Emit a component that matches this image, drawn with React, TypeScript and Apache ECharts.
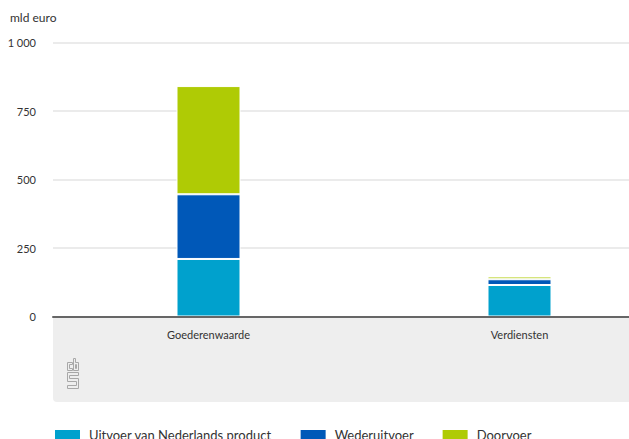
import React, { useEffect, useRef } from "react";
import * as echarts from "echarts";

const categories = ["Goederenwaarde", "Verdiensten"];
const seriesNames = ["Uitvoer van Nederlands product", "Wederuitvoer", "Doorvoer"];
const uitvoer = [210, 115];
const wederuitvoer = [236, 21];
const doorvoer = [395, 10];
const colors = ["#00a1cd", "#0058b8", "#afcb05"];
const yTicks = [0, 250, 500, 750, 1000];

const FONT = "Lato";

const logoStyle = { fill: "none", stroke: "#a8a8a8", lineWidth: 1 };
const logoShapes = [
  [[5, 4], [0, 4], [0, 12], [5, 12], [5, 10], [2, 10], [2, 6], [5, 6], [5, 4]],
  [[6, 0], [8, 0], [8, 4], [11, 4], [11, 12], [6, 12], [6, 0]],
  [[8, 6], [9, 6], [9, 10], [8, 10], [8, 6]],
  [[0, 14], [11, 14], [11, 17], [2, 17], [2, 20], [11, 20], [11, 30], [0, 30], [0, 27], [9, 27], [9, 23], [0, 23], [0, 14]],
];

export default function App() {
  const ref = useRef<HTMLDivElement>(null);
  useEffect(() => {
    if (!ref.current) return;
    const chart = echarts.init(ref.current, null, { renderer: "svg" });
    const data = [uitvoer, wederuitvoer, doorvoer];
    chart.setOption({
      animation: false,
      backgroundColor: "#ffffff",
      textStyle: { fontFamily: FONT },
      grid: { left: 53, width: 622, top: 42.5, height: 274, containLabel: false, outerBoundsMode: "none" },
      legend: {
        left: 53,
        top: 428,
        padding: 0,
        itemWidth: 27,
        itemHeight: 12,
        itemGap: 27,
        icon: "rect",
        textStyle: { fontFamily: FONT, fontSize: 13, color: "#333", padding: [0, 0, 0, 3] },
        data: seriesNames,
      },
      xAxis: {
        type: "category",
        data: categories,
        axisLine: { show: true, lineStyle: { color: "#666", width: 2 } },
        axisTick: { show: false },
        axisLabel: { color: "#333", fontSize: 11, margin: 12, fontFamily: FONT },
        z: 10,
      },
      yAxis: {
        type: "value",
        min: yTicks[0],
        max: yTicks[yTicks.length - 1],
        interval: 250,
        axisLine: { show: false },
        axisTick: { show: false },
        splitLine: { lineStyle: { color: "#ebebeb", width: 2 } },
        axisLabel: {
          color: "#333",
          fontSize: 11,
          margin: 17,
          fontFamily: FONT,
          formatter: (v: number) => (v >= 1000 ? String(v).replace(/\B(?=(\d{3})+(?!\d))/g, " ") : String(v)),
        },
      },
      graphic: [
        {
          type: "rect",
          z: -1,
          shape: { x: 53, y: 317, width: 640, height: 85, r: [0, 0, 0, 4] },
          style: { fill: "#eeeeee" },
        },
        {
          type: "text",
          left: 10,
          top: 11,
          style: { text: "mld euro", fontSize: 12, fill: "#333", fontFamily: FONT },
        },
        {
          type: "group",
          x: 67.5,
          y: 358.5,
          children: logoShapes.map((pts) => ({
            type: "polyline",
            shape: { points: pts },
            style: logoStyle,
          })),
        },
      ],
      series: seriesNames.map((name, i) => ({
        name,
        type: "bar",
        stack: "total",
        barWidth: 64,
        data: data[i],
        itemStyle: { color: colors[i], borderColor: "#ffffff", borderWidth: 1 },
      })),
    });
    return () => chart.dispose();
  }, []);
  return <div ref={ref} style={{ position: "fixed", left: 0, top: 0, width: 629, height: 439 }} />;
}
